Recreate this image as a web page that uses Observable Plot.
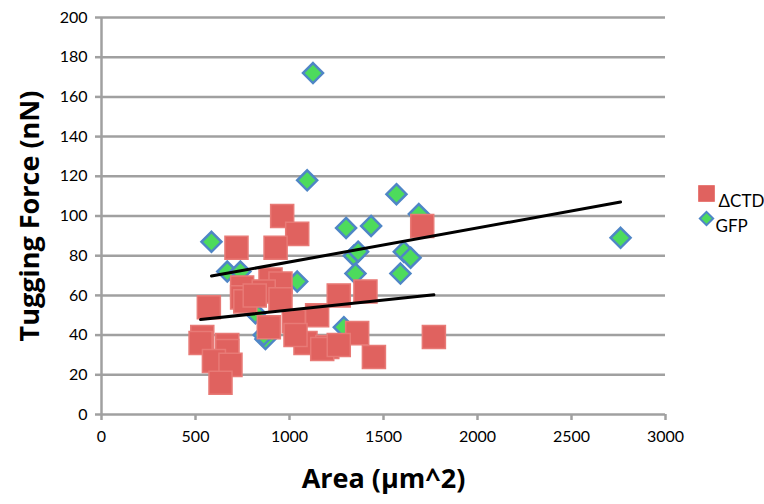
<!DOCTYPE html>
<html>
<head>
<meta charset="utf-8">
<script src="https://cdn.jsdelivr.net/npm/d3@7"></script>
<script src="https://cdn.jsdelivr.net/npm/@observablehq/plot@0.6"></script>
<style>
  html, body { margin: 0; padding: 0; background: #fff; }
  #chart { width: 764px; height: 504px; }
</style>
</head>
<body>
<div id="chart"></div>
<script>
// ΔCTD series (Area µm^2, Tugging force nN)
const ctdArea  = [961, 1041, 718, 926, 1706, 571, 748, 748, 899, 952, 863, 536, 527, 669, 669, 598, 686, 633, 890, 1023, 1147, 1085, 1201, 1032, 1262, 1404, 1360, 1768, 1449, 1174, 1262, 765, 815, 952];
const ctdForce = [100,  91,  84,  84,   95,  54,  64,  59,  68,  66,  62,  39,  36,  35,  32,  27,  25,  16,  44,   47,   50,   36,   34,   40,   60,   62,   41,   39,   29,   33,   35,  57,  60,  58];
// GFP series
const gfpArea  = [1125, 1094, 1569, 585, 1301, 1434, 1688, 1342, 1365, 1351, 1608, 1644, 1590, 1041, 1289, 872, 669, 739, 819, 2761, 863];
const gfpForce = [ 172,  118,  111,  87,   94,   95,  101,   80,   82,   71,   82,   79,   71,   67,   44,  38,  72,  72,  51,   89,  40];
// Linear trendlines: [slope, intercept]
const ctdTrend = [0.0100, 42.6];
const gfpTrend = [0.01714, 59.7];
const xTicks = [0, 500, 1000, 1500, 2000, 2500, 3000];
const yTicks = [0, 20, 40, 60, 80, 100, 120, 140, 160, 180, 200];
const seriesNames = ["ΔCTD", "GFP"];

const ctd = ctdArea.map((a, i) => ({area: a, force: ctdForce[i]}));
const gfp = gfpArea.map((a, i) => ({area: a, force: gfpForce[i]}));
function trendLine(data, [m, b]) {
  const [x0, x1] = d3.extent(data, d => d.area);
  return [x0, x1].map(x => ({area: x, force: m * x + b}));
}

const font = "Lato, 'Open Sans', sans-serif";
const titleFont = "'Open Sans', Lato, sans-serif";
const grey = "#a0a0a0";

const chart = Plot.plot({
  width: 764,
  height: 504,
  marginLeft: 101,
  marginRight: 99,
  marginTop: 17,
  marginBottom: 90,
  style: {fontFamily: font, color: "#000", background: "#fff"},
  x: {domain: [0, 3000]},
  y: {domain: [0, 200]},
  marks: [
    Plot.gridY(yTicks.filter(t => t > 0), {stroke: grey, strokeOpacity: 1, strokeWidth: 2.5}),
    Plot.ruleX([0], {stroke: grey, strokeWidth: 2.5}),
    Plot.ruleY([0], {stroke: grey, strokeWidth: 2.5}),
    Plot.axisY({ticks: yTicks, tickFormat: d3.format("d"), tickSize: 6, tickPadding: 8, fontSize: 16, stroke: grey, strokeWidth: 2.5, label: null}),
    Plot.axisX({ticks: xTicks, tickFormat: d3.format("d"), tickSize: 6, tickPadding: 10, fontSize: 16, stroke: grey, strokeWidth: 2.5, label: null}),
    Plot.dot(gfp, {x: "area", y: "force", symbol: "diamond2", r: 9, fill: "#4ddb5c", stroke: "#4f86c6", strokeWidth: 2.5}),
    Plot.dot(ctd, {x: "area", y: "force", symbol: "square", r: 13, fill: "#e0625f", stroke: "#e87a76", strokeWidth: 1.5}),
    Plot.line(trendLine(gfp, gfpTrend), {x: "area", y: "force", stroke: "#000", strokeWidth: 3}),
    Plot.line(trendLine(ctd, ctdTrend), {x: "area", y: "force", stroke: "#000", strokeWidth: 3}),
    // axis titles
    Plot.text(["Tugging Force (nN)"], {frameAnchor: "left", textAnchor: "middle", dx: -71, rotate: -90, fontSize: 27, fontWeight: "bold", fontFamily: titleFont, fill: "#000"}),
    Plot.text(["Area (µm^2)"], {frameAnchor: "bottom", dy: 73, fontSize: 27, fontWeight: "bold", fontFamily: titleFont, fill: "#000"}),
    // legend
    Plot.dot([seriesNames[0]], {frameAnchor: "top-right", dx: 41, dy: 176, symbol: "square", r: 9, fill: "#e0625f", stroke: "#e87a76", strokeWidth: 1}),
    Plot.text([seriesNames[0]], {frameAnchor: "top-right", dx: 53, dy: 177, textAnchor: "start", fontSize: 17, fill: "#000"}),
    Plot.dot([seriesNames[1]], {frameAnchor: "top-right", dx: 41, dy: 201, symbol: "diamond2", r: 6, fill: "#4ddb5c", stroke: "#4f86c6", strokeWidth: 2}),
    Plot.text([seriesNames[1]], {frameAnchor: "top-right", dx: 50, dy: 202, textAnchor: "start", fontSize: 17, fill: "#000"})
  ]
});
document.getElementById("chart").appendChild(chart);
</script>
</body>
</html>
